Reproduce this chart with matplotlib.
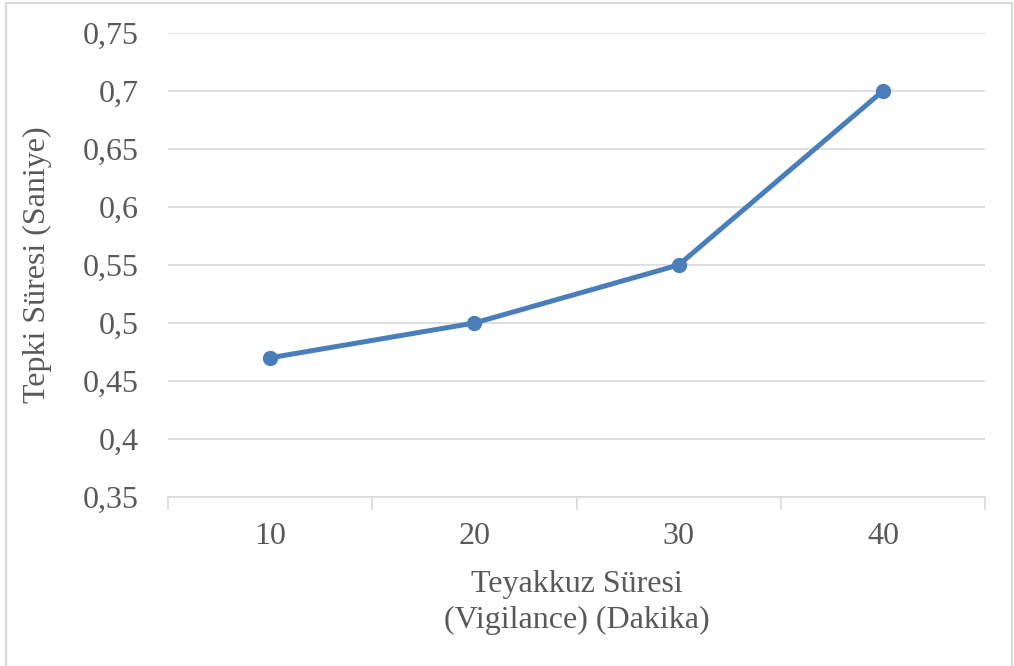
import matplotlib
matplotlib.use("Agg")
import matplotlib.pyplot as plt
from matplotlib.patches import Rectangle

# Reaction time by vigilance duration
durations = ["10", "20", "30", "40"]
reaction_times = [0.47, 0.50, 0.55, 0.70]
y_ticks = [0.35, 0.40, 0.45, 0.50, 0.55, 0.60, 0.65, 0.70, 0.75]
y_tick_labels = ["0,35", "0,4", "0,45", "0,5", "0,55", "0,6", "0,65", "0,7", "0,75"]

plt.rcParams["font.family"] = ["Liberation Serif", "DejaVu Serif"]
text_color = "#595959"
grid_color = "#D9D9D9"
line_color = "#4A7EBB"
fs = 23

fig = plt.figure(figsize=(10.14, 6.66), dpi=100)
W, H = 1014, 666
ax = fig.add_axes([168 / W, 1 - 497 / H, (985 - 168) / W, (497 - 33) / H])

# outer chart frame
fig.patches.append(Rectangle((6 / W, -0.05), (1012 - 6) / W, 1 - 3 / H + 0.05,
                             transform=fig.transFigure, fill=False,
                             edgecolor="#D9D9D9", linewidth=1.5))

x = list(range(len(durations)))
ax.plot(x, reaction_times, color=line_color, linewidth=3.6, marker="o",
        markersize=10, markerfacecolor=line_color, markeredgecolor=line_color,
        zorder=3, solid_capstyle="round")

ax.set_xlim(-0.5, len(durations) - 0.5)
ax.set_ylim(0.35, 0.75)
ax.set_yticks(y_ticks)
ax.set_yticklabels(y_tick_labels)
ax.yaxis.grid(True, color=grid_color, linewidth=1.2)
ax.set_axisbelow(True)

# category labels centred, tick marks on the boundaries between categories
ax.set_xticks(x)
ax.set_xticklabels(durations)
ax.tick_params(axis="x", which="major", length=0, pad=18, labelsize=fs, labelcolor=text_color)
ax.set_xticks([i - 0.5 for i in range(len(durations) + 1)], minor=True)
ax.tick_params(axis="x", which="minor", length=9, width=1.2, color=grid_color, direction="out")
ax.tick_params(axis="y", length=0, pad=21, labelsize=fs, labelcolor=text_color)

for side in ["top", "right", "left"]:
    ax.spines[side].set_visible(False)
ax.spines["bottom"].set_color(grid_color)
ax.spines["bottom"].set_linewidth(1.2)

ax.set_xlabel("Teyakkuz Süresi\n(Vigilance) (Dakika)", fontsize=fs, color=text_color,
              labelpad=14, linespacing=1.3)
ax.set_ylabel("Tepki Süresi (Saniye)", fontsize=fs, color=text_color, labelpad=22)

fig.savefig("out.png", dpi=100)
